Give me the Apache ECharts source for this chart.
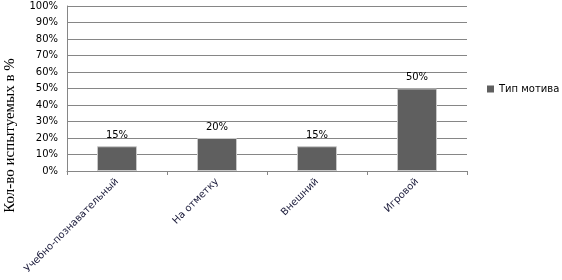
<!DOCTYPE html>
<html><head><meta charset="utf-8">
<script src="https://cdn.jsdelivr.net/npm/echarts@6/dist/echarts.min.js"></script>
<style>html,body{margin:0;padding:0;background:#fff}#c{width:562px;height:280px}</style>
</head><body><div id="c"></div>
<script>
const categories = ['Учебно-познавательный', 'На отметку', 'Внешний', 'Игровой'];
const values = [15, 20, 15, 50];
const seriesName = 'Тип мотива';
const yTitle = 'Кол-во испытуемых в %';

const chart = echarts.init(document.getElementById('c'));
chart.setOption({
  animation: false,
  grid: {left: 67, right: 95, top: 6, bottom: 109, containLabel: false, outerBoundsMode: 'none'},
  legend: {
    data: [seriesName], left: 482, top: 79, itemWidth: 7, itemHeight: 7, itemGap: 4,
    icon: 'rect', itemStyle: {borderWidth: 0},
    textStyle: {fontFamily: 'DejaVu Sans', fontSize: 10, color: '#000'}
  },
  xAxis: {
    type: 'category', data: categories,
    axisLine: {lineStyle: {color: '#868686'}},
    axisTick: {show: true, length: 4, lineStyle: {color: '#868686'}},
    axisLabel: {rotate: 45, fontFamily: 'DejaVu Sans', fontSize: 10, color: '#1a1a3a', margin: 9, interval: 0}
  },
  yAxis: {
    type: 'value', min: 0, max: 100, interval: 10,
    name: yTitle, nameLocation: 'middle', nameGap: 49, nameRotate: 90,
    nameTextStyle: {fontFamily: 'Liberation Serif', fontSize: 15, color: '#000', padding: [0, 94, 0, 0]},
    axisLine: {show: true, lineStyle: {color: '#868686'}},
    axisTick: {show: false},
    splitLine: {lineStyle: {color: '#868686'}},
    axisLabel: {formatter: '{value}%', fontFamily: 'DejaVu Sans', fontSize: 10, color: '#000', margin: 9}
  },
  series: [{
    name: seriesName, type: 'bar', data: values, barWidth: 40,
    itemStyle: {color: '#5f5f5f', borderColor: '#c8c8c8', borderWidth: 1},
    label: {show: true, position: 'top', formatter: '{c}%', fontFamily: 'DejaVu Sans', fontSize: 10, color: '#000', distance: 6}
  }]
});
</script></body></html>
